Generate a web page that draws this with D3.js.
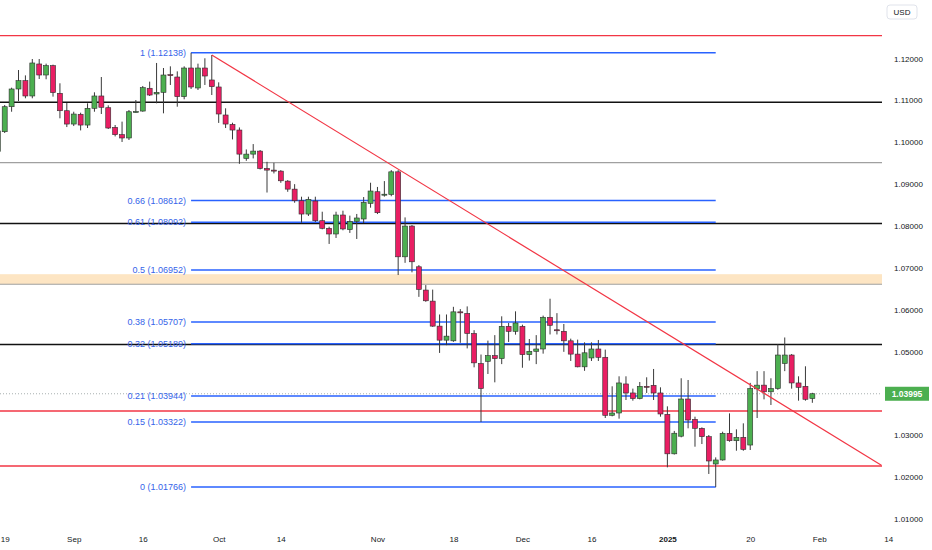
<!DOCTYPE html>
<html>
<head>
<meta charset="utf-8">
<script src="https://cdn.jsdelivr.net/npm/d3@7"></script>
<style>
  body { margin: 0; background: #fff; }
  svg { display: block; font-family: "Liberation Sans", Arial, sans-serif; }
</style>
</head>
<body>
<div id="chart"></div>
<script>
// daily EURUSD candles, index 0 = Aug 16 (mostly off the left edge)
var opens = [1.0978,1.10252,1.10849,1.11272,1.11470,1.11105,1.11869,1.11606,1.11829,1.11169,
  1.10753,1.10435,1.10668,1.10411,1.10811,1.11105,1.10825,1.10356,1.10181,1.10102,
  1.10729,1.10745,1.11289,1.11153,1.11192,1.11614,1.11558,1.11089,1.11773,1.11296,
  1.11773,1.11487,1.11320,1.10651,1.10428,1.10292,1.09614,1.09717,1.09789,1.09375,
  1.09335,1.09311,1.09072,1.08881,1.08604,1.08286,1.08597,1.08127,1.07946,1.07810,
  1.08263,1.07914,1.08112,1.08168,1.08541,1.08819,1.08754,1.08754,1.09294,1.07265,
  1.07999,1.07027,1.06471,1.06207,1.05610,1.05275,1.05259,1.05951,1.05913,1.05435,
  1.04717,1.04770,1.04906,1.04834,1.05605,1.05486,1.05605,1.04929,1.05009,1.05064,
  1.05821,1.05523,1.05486,1.05259,1.04942,1.04638,1.04850,1.05064,1.04866,1.03481,
  1.03536,1.04229,1.04014,1.03880,1.04173,1.04197,1.04014,1.03504,1.02561,1.02982,
  1.03870,1.03384,1.03170,1.02970,1.02318,1.02414,1.03051,1.02874,1.02955,1.02771,
  1.04113,1.04201,1.04042,1.04121,1.04718,1.04920,1.04253,1.04173,1.03882];
var highs = [1.1048,1.10890,1.11303,1.11725,1.11597,1.11988,1.11988,1.11877,1.11853,1.11408,
  1.10937,1.10729,1.10706,1.10930,1.11193,1.11558,1.10882,1.10412,1.10493,1.10770,
  1.11009,1.11344,1.11448,1.11893,1.11773,1.11813,1.11693,1.11813,1.12138,1.11877,
  1.12005,1.12084,1.11431,1.10811,1.10467,1.10354,1.09829,1.09957,1.09815,1.09533,
  1.09509,1.09335,1.09096,1.09000,1.08700,1.08700,1.08700,1.08342,1.07985,1.08342,
  1.08366,1.08248,1.08288,1.08692,1.09034,1.08933,1.09073,1.09335,1.09335,1.08206,
  1.08023,1.07067,1.06590,1.06482,1.05888,1.05888,1.06071,1.06017,1.06081,1.05514,
  1.04932,1.05264,1.05395,1.05844,1.05685,1.05963,1.05645,1.05302,1.05395,1.05861,
  1.06264,1.05920,1.05661,1.05311,1.05287,1.05223,1.05223,1.05279,1.05049,1.04173,
  1.04412,1.04412,1.04118,1.04276,1.04388,1.04587,1.04149,1.03695,1.03108,1.04365,
  1.04324,1.03448,1.03193,1.03010,1.02476,1.03089,1.03527,1.03146,1.03289,1.04255,
  1.04535,1.04535,1.04365,1.05176,1.05339,1.04943,1.04412,1.04651,1.04018];
var lows = [1.0974,1.10221,1.10729,1.10985,1.11050,1.11050,1.11511,1.11504,1.11089,1.10572,
  1.10363,1.10387,1.10283,1.10340,1.10729,1.10675,1.10316,1.10140,1.10007,1.10054,
  1.10708,1.10729,1.11105,1.10930,1.10691,1.11368,1.10849,1.11026,1.11272,1.11248,
  1.11368,1.11128,1.10462,1.10340,1.10068,1.09485,1.09557,1.09614,1.09351,1.08800,
  1.09256,1.09032,1.08817,1.08556,1.08079,1.08240,1.08096,1.07922,1.07572,1.07715,
  1.07898,1.07835,1.07691,1.08072,1.08438,1.08286,1.08702,1.08711,1.06830,1.07121,
  1.06894,1.06309,1.06191,1.05593,1.04970,1.05155,1.05235,1.05211,1.05078,1.04626,
  1.03322,1.04467,1.04268,1.04703,1.05232,1.05406,1.04616,1.04787,1.04703,1.04953,
  1.05411,1.05411,1.04996,1.04778,1.04626,1.04543,1.04778,1.04778,1.03416,1.03456,
  1.03401,1.03846,1.03830,1.03862,1.04014,1.03846,1.03448,1.02238,1.02544,1.02955,
  1.03170,1.02731,1.02795,1.02080,1.01766,1.02398,1.02850,1.02635,1.02635,1.02652,
  1.03416,1.03862,1.03727,1.04090,1.04535,1.04117,1.03830,1.03830,1.03779];
var closes = [1.1027,1.10849,1.11272,1.11470,1.11105,1.11893,1.11606,1.11829,1.11186,1.10753,
  1.10435,1.10674,1.10411,1.10811,1.11105,1.10835,1.10340,1.10181,1.10102,1.10729,
  1.10735,1.11303,1.11128,1.11192,1.11606,1.11600,1.11089,1.11773,1.11320,1.11773,
  1.11582,1.11327,1.10675,1.10435,1.10292,1.09717,1.09717,1.09789,1.09375,1.09335,
  1.09330,1.09080,1.08881,1.08604,1.08286,1.08637,1.08127,1.07946,1.07810,1.08263,
  1.07930,1.08112,1.08192,1.08565,1.08836,1.08318,1.08760,1.09294,1.07265,1.07999,
  1.07146,1.06487,1.06215,1.05610,1.05275,1.05371,1.05951,1.05927,1.05435,1.04733,
  1.04120,1.04906,1.04834,1.05605,1.05486,1.05685,1.04929,1.05009,1.05064,1.05821,
  1.05630,1.05518,1.05259,1.04942,1.04638,1.04973,1.05064,1.04866,1.03481,1.03536,
  1.04253,1.04014,1.03880,1.04173,1.04168,1.04014,1.03512,1.02561,1.03053,1.03870,
  1.03368,1.03170,1.02970,1.02390,1.02414,1.03051,1.02874,1.02955,1.02668,1.04121,
  1.04201,1.04042,1.04121,1.04920,1.04920,1.04253,1.04149,1.03863,1.03995];

// time axis (bar index -> label)
var timeTicks = [1, 11, 21, 32, 41, 55, 66, 76, 86, 97, 109, 119, 129];
var timeLabels = ["19", "Sep", "16", "Oct", "14", "Nov", "18", "Dec", "16", "2025", "20", "Feb", "14"];

// price axis (1.04 is hidden behind the last price label)
var priceTicks = [1.01, 1.02, 1.03, 1.05, 1.06, 1.07, 1.08, 1.09, 1.10, 1.11, 1.12];
var lastPrice = 1.03995;

// fibonacci retracement, drawn from bar 28 to bar 104
var fibRatios = ["1", "0.66", "0.61", "0.5", "0.38", "0.32", "0.21", "0.15", "0"];
var fibPrices = [1.12138, 1.08612, 1.08092, 1.06952, 1.05707, 1.05189, 1.03944, 1.03322, 1.01766];
var fibBars = [28, 104];

// horizontal levels
var redLevels = [1.12544, 1.03583, 1.0227];
var blackLevels = [1.10954, 1.0806, 1.0517];
var grayLevels = [1.09512, 1.0661];
var zone = [1.0685, 1.0661];

// trend line anchors [bar, price]
var trendBars = [31, 128];
var trendPrices = [1.12084, 1.0229];

var W = 932, H = 550, plotR = 882, plotB = 530;
var green = "#4caf50", red = "#e91e63", lineRed = "#f23645", fibBlue = "#2962ff";

var svg = d3.select("#chart").append("svg")
  .attr("width", W).attr("height", H);

svg.append("rect").attr("width", W).attr("height", H).attr("fill", "#fff");

var x = d3.scaleLinear().domain([1, 118]).range([4.7, 812.35]);
var y = d3.scaleLinear().domain([1.12, 1.01]).range([58.5, 519.2]);

svg.append("clipPath").attr("id", "plot")
  .append("rect").attr("width", plotR).attr("height", plotB);

var g = svg.append("g").attr("clip-path", "url(#plot)");

// orange zone
g.append("rect")
  .attr("x", 0).attr("width", plotR)
  .attr("y", y(zone[0])).attr("height", y(zone[1]) - y(zone[0]))
  .attr("fill", "#fde5c3");

function hline(p, color, w, dash) {
  g.append("line")
    .attr("x1", 0).attr("x2", plotR)
    .attr("y1", y(p)).attr("y2", y(p))
    .attr("stroke", color).attr("stroke-width", w)
    .attr("stroke-dasharray", dash || null);
}
grayLevels.forEach(function (p) { hline(p, "#a0a0a0", 1.2); });
redLevels.forEach(function (p) { hline(p, lineRed, 1.3); });
blackLevels.forEach(function (p) { hline(p, "#111", 1.4); });
hline(lastPrice, "#a8b0b0", 1, "1,2");

// fib levels
fibPrices.forEach(function (p, i) {
  g.append("line")
    .attr("x1", x(fibBars[0])).attr("x2", x(fibBars[1]))
    .attr("y1", y(p)).attr("y2", y(p))
    .attr("stroke", fibBlue).attr("stroke-width", 1.5);
  g.append("text")
    .attr("x", x(fibBars[0]) - 5).attr("y", y(p))
    .attr("dy", "0.35em")
    .attr("text-anchor", "end")
    .attr("font-size", 9)
    .attr("fill", "#3563e9")
    .text(fibRatios[i] + " (" + p.toFixed(5) + ")");
});

// candles
var bars = d3.range(opens.length);
g.selectAll(".wick").data(bars).enter().append("line")
  .attr("x1", function (i) { return x(i); })
  .attr("x2", function (i) { return x(i); })
  .attr("y1", function (i) { return y(highs[i]); })
  .attr("y2", function (i) { return y(lows[i]); })
  .attr("stroke", "#3a3a3a").attr("stroke-width", 1);

g.selectAll(".body").data(bars).enter().append("rect")
  .attr("x", function (i) { return x(i) - 2.5; })
  .attr("width", 5)
  .attr("y", function (i) { return y(Math.max(opens[i], closes[i])); })
  .attr("height", function (i) { return Math.max(1, Math.abs(y(opens[i]) - y(closes[i]))); })
  .attr("fill", function (i) { return closes[i] >= opens[i] ? green : red; })
  .attr("stroke", "#2e2e2e").attr("stroke-width", 0.6);

// trend line
g.append("line")
  .attr("x1", x(trendBars[0])).attr("y1", y(trendPrices[0]))
  .attr("x2", x(trendBars[1])).attr("y2", y(trendPrices[1]))
  .attr("stroke", lineRed).attr("stroke-width", 1.2);

// price axis
var ya = svg.append("g")
  .attr("transform", "translate(886,0)")
  .call(d3.axisRight(y).tickValues(priceTicks).tickFormat(d3.format(".5f")).tickSize(0).tickPadding(8));
ya.select(".domain").remove();
ya.selectAll("text").attr("font-size", 8).attr("fill", "#131722")
  .attr("font-family", "Liberation Sans, Arial, sans-serif");

// time axis
var xa = svg.append("g")
  .attr("transform", "translate(0," + 533 + ")")
  .call(d3.axisBottom(x).tickValues(timeTicks)
    .tickFormat(function (d, i) { return timeLabels[i]; }).tickSize(0).tickPadding(3));
xa.select(".domain").remove();
xa.selectAll("text").attr("font-size", 8).attr("fill", "#131722")
  .attr("font-family", "Liberation Sans, Arial, sans-serif")
  .attr("font-weight", function (d, i) { return timeLabels[i] === "2025" ? "bold" : null; });

// USD box
svg.append("rect")
  .attr("x", 887).attr("y", 5).attr("width", 30).attr("height", 14).attr("rx", 3)
  .attr("fill", "#fff").attr("stroke", "#e0e3eb");
svg.append("text")
  .attr("x", 902).attr("y", 12).attr("dy", "0.35em")
  .attr("text-anchor", "middle").attr("font-size", 8).attr("fill", "#131722")
  .text("USD");

// last price label
svg.append("rect")
  .attr("x", 885).attr("y", y(lastPrice) - 7).attr("width", 44).attr("height", 14)
  .attr("fill", green);
svg.append("text")
  .attr("x", 907).attr("y", y(lastPrice)).attr("dy", "0.35em")
  .attr("text-anchor", "middle").attr("font-size", 8.5).attr("font-weight", "bold")
  .attr("fill", "#fff")
  .text(d3.format(".5f")(lastPrice));
</script>
</body>
</html>
